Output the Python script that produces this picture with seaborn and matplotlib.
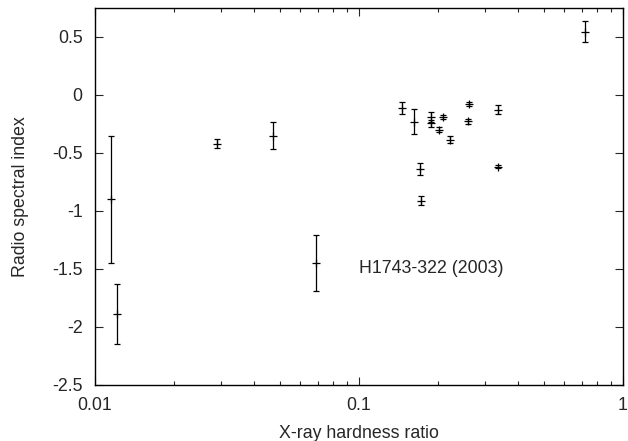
#!/usr/bin/env python3
"""
Radio spectral index vs X-ray hardness ratio (H1743-322, 2003)
"""

import pandas as pd
import matplotlib
matplotlib.use('Agg')
import matplotlib.pyplot as plt
from matplotlib.ticker import LogLocator, FixedLocator, FuncFormatter
import seaborn as sns

# Data
hardness = [0.0115, 0.0121, 0.0289, 0.0472, 0.0687,
            0.1455, 0.162, 0.188, 0.188, 0.201, 0.2086, 0.221,
            0.170, 0.171, 0.260, 0.258, 0.337, 0.335, 0.716]
spectral_index = [-0.90, -1.89, -0.42, -0.35, -1.45,
                  -0.11, -0.23, -0.19, -0.245, -0.30, -0.19, -0.385,
                  -0.64, -0.91, -0.078, -0.227, -0.127, -0.618, 0.546]
index_err = [0.55, 0.26, 0.04, 0.12, 0.24,
             0.05, 0.11, 0.04, 0.03, 0.02, 0.02, 0.03,
             0.05, 0.04, 0.02, 0.02, 0.04, 0.01, 0.09]

y_ticks = [0.5, 0, -0.5, -1, -1.5, -2, -2.5]
x_ticks = [0.01, 0.1, 1]
label_text = 'H1743-322 (2003)'

FS = 12.8


def main():
    sns.set_style('ticks')
    plt.rcParams['font.family'] = ['Liberation Sans', 'DejaVu Sans']
    plt.rcParams['font.size'] = FS

    df = pd.DataFrame({'hr': hardness, 'alpha': spectral_index, 'err': index_err})

    fig = plt.figure(figsize=(6.28, 4.41), dpi=100)
    ax = fig.add_axes([0.1513, 0.127, 0.8407, 0.855])

    ax.errorbar(df['hr'], df['alpha'], yerr=df['err'], fmt='none',
                ecolor='black', elinewidth=0.9, capsize=2.4, capthick=0.9)
    sns.scatterplot(data=df, x='hr', y='alpha', marker='+', s=28,
                    color='black', linewidth=0.9, ax=ax, legend=False)

    ax.set_xscale('log')
    ax.set_xlim(0.01, 1)
    ax.set_ylim(-2.5, 0.75)

    ax.xaxis.set_major_locator(FixedLocator(x_ticks))
    ax.xaxis.set_minor_locator(LogLocator(base=10, subs=range(2, 10)))
    ax.xaxis.set_major_formatter(FuncFormatter(lambda v, p: f'{v:g}'))
    ax.xaxis.set_minor_formatter(FuncFormatter(lambda v, p: ''))
    ax.yaxis.set_major_locator(FixedLocator(y_ticks))
    ax.yaxis.set_major_formatter(FuncFormatter(lambda v, p: f'{v:g}'))

    ax.tick_params(which='both', direction='in', top=True, right=True,
                   width=0.8, labelsize=FS)
    ax.tick_params(axis='x', pad=9)
    ax.tick_params(axis='y', pad=9)
    ax.tick_params(which='major', length=6)
    ax.tick_params(which='minor', length=3)
    for s in ax.spines.values():
        s.set_linewidth(1.0)
        s.set_color('black')

    ax.text(0.1, -1.5, label_text, ha='left', va='center', fontsize=FS)

    ax.set_xlabel('X-ray hardness ratio', fontsize=FS)
    ax.set_ylabel('Radio spectral index', fontsize=FS)
    ax.xaxis.set_label_coords(0.5, -0.105)
    ax.yaxis.set_label_coords(-0.125, 0.5)

    fig.savefig('out.png', dpi=100)
    plt.close(fig)


if __name__ == '__main__':
    main()
